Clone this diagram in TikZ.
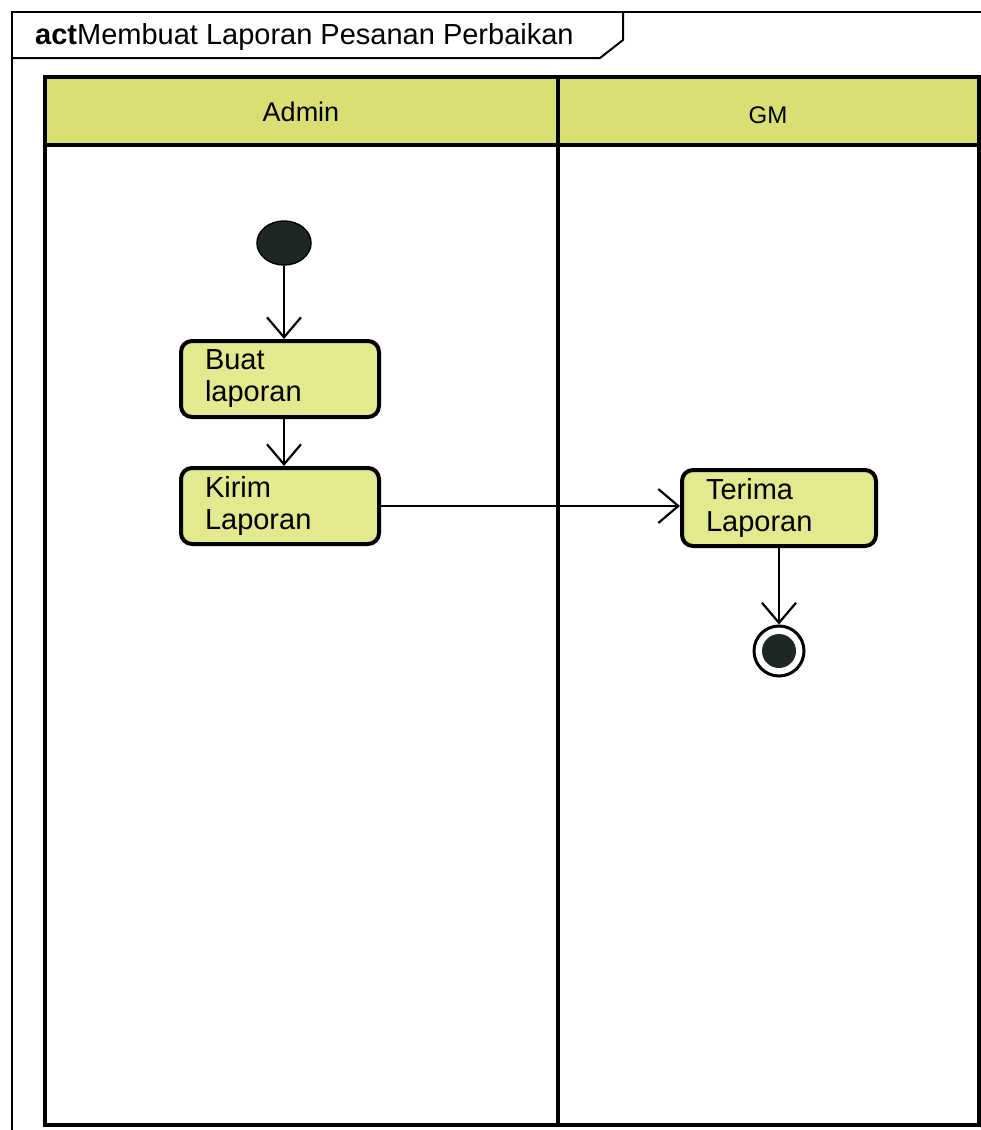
\documentclass[tikz,border=0pt]{standalone}
\usepackage{fontspec}
\setmainfont{Liberation Sans}
\usetikzlibrary{arrows.meta,shapes.geometric}
\definecolor{lanehead}{HTML}{D9DF72}
\definecolor{actfill}{HTML}{E3E98F}
\definecolor{dot}{HTML}{1E2822}
\tikzset{
  lbl/.style={font=\fontsize{27}{31}\selectfont},
  action/.style={draw=black, line width=4pt, fill=actfill, rounded corners=11pt,
    minimum width=198pt, minimum height=76pt, text width=150pt, inner xsep=0pt,
    align=left, font=\fontsize{29}{32}\selectfont, anchor=center},
  flow/.style={line width=2.2pt, -{Straight Barb[length=20pt,width=34pt,line width=2.2pt]}},
  lane/.style={line width=3.5pt},
}
\begin{document}
\begin{tikzpicture}[x=1pt,y=-1pt]
\useasboundingbox[fill=white] (0,0) rectangle (981,1130);

% diagram frame and title tab
\draw[line width=2pt] (12,1132) -- (12,12) -- (983,12);
\draw[line width=2pt] (12,58) -- (600,58) -- (623,40) -- (623,12);
\node[font=\fontsize{29}{32}\selectfont, anchor=west, inner sep=0pt] (title) at (35,37) {\textbf{act}Membuat Laporan Pesanan Perbaikan};

% swimlane partitions
\fill[lanehead] (45,77) rectangle (979,145);
\draw[lane] (45,77) rectangle (979,1125);
\draw[lane] (45,145) -- (979,145);
\draw[lane] (558,77) -- (558,1125);
\node[lbl] (admin) at (301,112) {Admin};
\node[lbl, font=\fontsize{24}{28}\selectfont] (gm) at (768,115) {GM};

% activity nodes
\node[ellipse, fill=dot, draw=black, line width=1.5pt, minimum width=54pt, minimum height=44pt, inner sep=0pt] (start) at (284,243) {};
\node[action] (buat) at (280,379) {Buat\\laporan};
\node[action] (kirim) at (280,506) {Kirim\\Laporan};
\node[action, minimum width=194pt, text width=146pt] (terima) at (779,508) {Terima\\Laporan};
\node[circle, draw=black, line width=3pt, fill=white, minimum size=50pt, inner sep=0pt] (end) at (779,651) {};
\fill[dot] (end.center) circle (17);

% control flows
\draw[flow] (start) -- (start |- buat.north);
\draw[flow] (start |- buat.south) -- (start |- kirim.north);
\draw[flow] (kirim.east) -- (terima.west |- kirim.east);
\draw[flow] (terima) -- (end);
\end{tikzpicture}
\end{document}
